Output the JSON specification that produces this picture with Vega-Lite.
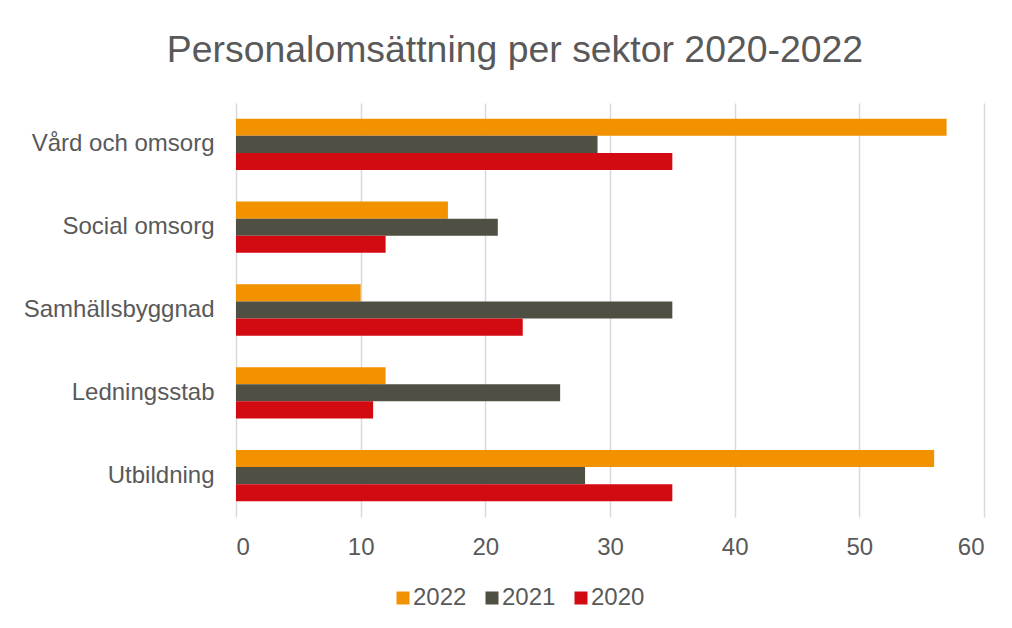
{
  "$schema": "https://vega.github.io/schema/vega-lite/v6.json",
  "autosize": {"type": "none"},
  "padding": {"left": 236, "top": 103, "right": 28, "bottom": 111},
  "width": 748,
  "height": 414,
  "background": "#ffffff",
  "title": {
    "text": "Personalomsättning per sektor 2020-2022",
    "font": "Liberation Sans",
    "fontSize": 37.4,
    "fontWeight": "normal",
    "color": "#595959",
    "anchor": "middle",
    "dx": -95,
    "offset": 34
  },
  "data": {
    "values": [
      {"sektor": "Vård och omsorg", "år": "2022", "värde": 57},
      {"sektor": "Vård och omsorg", "år": "2021", "värde": 29},
      {"sektor": "Vård och omsorg", "år": "2020", "värde": 35},
      {"sektor": "Social omsorg", "år": "2022", "värde": 17},
      {"sektor": "Social omsorg", "år": "2021", "värde": 21},
      {"sektor": "Social omsorg", "år": "2020", "värde": 12},
      {"sektor": "Samhällsbyggnad", "år": "2022", "värde": 10},
      {"sektor": "Samhällsbyggnad", "år": "2021", "värde": 35},
      {"sektor": "Samhällsbyggnad", "år": "2020", "värde": 23},
      {"sektor": "Ledningsstab", "år": "2022", "värde": 12},
      {"sektor": "Ledningsstab", "år": "2021", "värde": 26},
      {"sektor": "Ledningsstab", "år": "2020", "värde": 11},
      {"sektor": "Utbildning", "år": "2022", "värde": 56},
      {"sektor": "Utbildning", "år": "2021", "värde": 28},
      {"sektor": "Utbildning", "år": "2020", "värde": 35}
    ]
  },
  "mark": {"type": "bar"},
  "encoding": {
    "y": {
      "field": "sektor",
      "type": "nominal",
      "sort": ["Vård och omsorg", "Social omsorg", "Samhällsbyggnad", "Ledningsstab", "Utbildning"],
      "scale": {"paddingInner": 0.38, "paddingOuter": 0.19},
      "axis": {
        "title": null,
        "ticks": false,
        "domain": false,
        "labelFont": "Liberation Sans",
        "labelFontSize": 24,
        "labelColor": "#595959",
        "labelPadding": 22,
        "labelLimit": 300
      }
    },
    "yOffset": {
      "field": "år",
      "type": "nominal",
      "sort": ["2022", "2021", "2020"]
    },
    "x": {
      "field": "värde",
      "type": "quantitative",
      "scale": {"domain": [0, 60], "nice": false},
      "axis": {
        "title": null,
        "values": [0, 10, 20, 30, 40, 50, 60],
        "ticks": false,
        "domain": false,
        "grid": true,
        "gridColor": "#D9D9D9",
        "gridWidth": 1.5,
        "labelFont": "Liberation Sans",
        "labelFontSize": 24,
        "labelColor": "#595959",
        "labelPadding": 18
      }
    },
    "color": {
      "field": "år",
      "type": "nominal",
      "scale": {"domain": ["2022", "2021", "2020"], "range": ["#F39200", "#4F4F43", "#D20A11"]},
      "legend": {
        "title": null,
        "orient": "none",
        "direction": "horizontal",
        "legendX": 155,
        "legendY": 483,
        "symbolType": "square",
        "symbolSize": 169,
        "symbolStrokeWidth": 0,
        "symbolOpacity": 1,
        "labelFont": "Liberation Sans",
        "labelFontSize": 24,
        "labelColor": "#595959",
        "labelOffset": -2,
        "columnPadding": 13
      }
    }
  },
  "config": {
    "view": {"stroke": null}
  }
}
